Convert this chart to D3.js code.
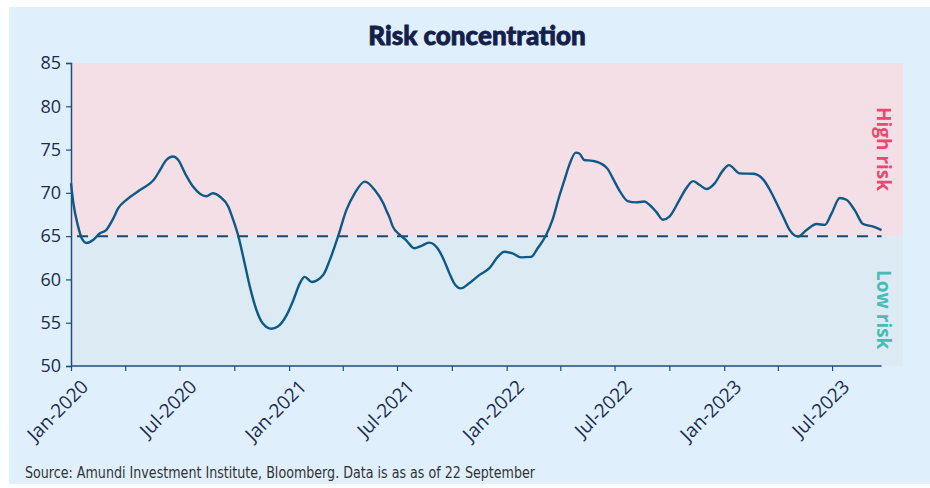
<!DOCTYPE html>
<html>
<head>
<meta charset="utf-8">
<script src="https://cdn.jsdelivr.net/npm/d3@7"></script>
<style>
  body { margin: 0; background: #ffffff; }
  svg { display: block; }
</style>
</head>
<body>
<div id="graph"></div>
<script>
// Dates (lecture du graphique) et valeurs de concentration du risque
var dates = [
  "2020-01-01", "2020-01-05", "2020-01-13", "2020-01-19", "2020-01-27", "2020-02-07",
  "2020-02-18", "2020-02-29", "2020-03-12", "2020-03-20", "2020-04-03", "2020-04-25",
  "2020-05-21", "2020-05-29", "2020-06-09", "2020-06-20", "2020-06-29", "2020-07-10",
  "2020-07-24", "2020-08-15", "2020-08-26", "2020-09-07", "2020-09-21", "2020-09-29",
  "2020-10-08", "2020-10-16", "2020-10-27", "2020-11-07", "2020-11-18", "2020-12-02",
  "2020-12-13", "2020-12-28", "2021-01-08", "2021-01-19", "2021-01-27", "2021-02-08",
  "2021-02-27", "2021-03-10", "2021-03-24", "2021-04-07", "2021-04-21", "2021-05-08",
  "2021-05-25", "2021-06-08", "2021-06-13", "2021-06-19", "2021-06-24", "2021-07-05",
  "2021-07-16", "2021-07-30", "2021-08-10", "2021-08-24", "2021-09-07", "2021-09-18",
  "2021-09-27", "2021-10-05", "2021-10-16", "2021-10-30", "2021-11-16", "2021-12-03",
  "2021-12-17", "2021-12-28", "2022-01-11", "2022-01-25", "2022-02-11", "2022-02-22",
  "2022-03-08", "2022-03-19", "2022-03-30", "2022-04-08", "2022-04-16", "2022-04-27",
  "2022-05-03", "2022-05-11", "2022-05-25", "2022-06-08", "2022-06-19", "2022-06-28",
  "2022-07-09", "2022-07-23", "2022-08-06", "2022-08-20", "2022-08-29", "2022-09-09",
  "2022-09-20", "2022-10-01", "2022-10-18", "2022-10-29", "2022-11-10", "2022-11-21",
  "2022-12-02", "2022-12-16", "2022-12-30", "2023-01-09", "2023-01-27", "2023-02-19",
  "2023-03-08", "2023-03-19", "2023-03-30", "2023-04-10", "2023-04-21", "2023-05-05",
  "2023-05-19", "2023-06-05", "2023-06-19", "2023-06-30", "2023-07-14", "2023-07-25",
  "2023-08-08", "2023-08-22", "2023-09-08", "2023-09-22"
];
var valeurs = [
  71.1, 68.8, 66.1, 64.75, 64.2, 64.55,
  65.3, 65.7, 67.05, 68.2, 69.2, 70.3,
  71.7, 72.6, 73.8, 74.2, 73.8, 72.3,
  70.7, 69.6, 69.95, 69.55, 68.4, 66.9,
  64.95, 62.6, 59.2, 56.5, 54.9, 54.3,
  54.55, 55.9, 57.6, 59.55, 60.3, 59.7,
  60.5, 62.2, 64.95, 68.0, 69.95, 71.3,
  70.3, 68.8, 68.0, 67.05, 66.1, 65.2,
  64.55, 63.6, 63.85, 64.25, 63.6, 62.2,
  60.7, 59.55, 58.97, 59.55, 60.5, 61.3,
  62.6, 63.2, 63.0, 62.55, 62.6, 63.6,
  65.1, 66.9, 69.55, 71.5, 73.2, 74.65,
  74.55, 73.8, 73.7, 73.4, 72.8, 71.7,
  70.3, 69.05, 68.9, 69.0, 68.6, 67.8,
  66.9, 67.25, 69.2, 70.5, 71.35, 70.9,
  70.45, 71.1, 72.6, 73.2, 72.25, 72.2,
  71.5, 70.3, 68.8, 67.25, 65.7, 64.95,
  65.7, 66.4, 66.3, 67.6, 69.4, 69.2,
  68.0, 66.4, 66.1, 65.7
];

// Graduations et seuil
var graduationsY = [50, 55, 60, 65, 70, 75, 80, 85];
var seuil = 65;
var zones = ["High risk", "Low risk"];
var titre = "Risk concentration";
var source = "Source: Amundi Investment Institute, Bloomberg. Data is as as of 22 September";

var parseDate = d3.timeParse("%Y-%m-%d");
var donnees = dates.map(function(d, i) { return { date: parseDate(d), valeur: valeurs[i] }; });
var derniereDate = donnees[donnees.length - 1].date;

// Marges et taille
var largeurTotale = 930,
    hauteurTotale = 488,
    marges = {haut: 63, gauche: 71},
    largeurInterne = 832,
    hauteurInterne = 303;

var echelleX = d3.scaleTime()
    .domain([parseDate("2020-01-01"), parseDate("2023-10-28")])
    .range([0, largeurInterne]);

var echelleY = d3.scaleLinear()
    .domain([50, 85])
    .range([hauteurInterne, 0]);

var svg = d3.select("#graph").append("svg")
    .attr("width", largeurTotale)
    .attr("height", hauteurTotale);

// Fond bleu clair
svg.append("rect")
    .attr("x", 9).attr("y", 7)
    .attr("width", largeurTotale - 9).attr("height", 477)
    .attr("fill", "#dff0fc");

svg.append("text")
    .attr("x", 477)
    .attr("y", 45)
    .attr("text-anchor", "middle")
    .style("font-family", "Lato, 'Open Sans', sans-serif")
    .style("font-weight", 900)
    .style("font-size", "26px")
    .style("fill", "#14204a")
    .style("stroke", "#14204a")
    .style("stroke-width", 0.8)
    .text(titre);

var graphique = svg.append("g")
    .attr("transform", "translate(" + marges.gauche + "," + marges.haut + ")");

// Zones de risque
graphique.append("rect")
    .attr("x", 0).attr("y", echelleY(85))
    .attr("width", largeurInterne)
    .attr("height", echelleY(seuil) - echelleY(85))
    .attr("fill", "#f5dfe7");

graphique.append("rect")
    .attr("x", 0).attr("y", echelleY(seuil))
    .attr("width", largeurInterne)
    .attr("height", echelleY(50) - echelleY(seuil))
    .attr("fill", "#dceaf4");

// Axe Y
var axeY = d3.axisLeft(echelleY)
    .tickValues(graduationsY)
    .tickSize(5)
    .tickPadding(5);

var gY = graphique.append("g").call(axeY);
gY.select(".domain").attr("stroke", "#1f4e79").attr("stroke-width", 1.5);
gY.selectAll(".tick line").attr("stroke", "#1f4e79").attr("stroke-width", 1.2);
gY.selectAll(".tick text")
    .style("font-family", "'Open Sans', sans-serif")
    .style("font-size", "18px")
    .style("fill", "#1c2b4f");

// Axe X : un trait par trimestre, étiquette en janvier et juillet
var axeX = d3.axisBottom(echelleX)
    .ticks(d3.timeMonth.every(3))
    .tickSize(5)
    .tickFormat(function(d) {
        return (d.getMonth() % 6 === 0) ? d3.timeFormat("%b-%Y")(d) : "";
    });

var gX = graphique.append("g")
    .attr("transform", "translate(0," + hauteurInterne + ")")
    .call(axeX);
gX.select(".domain").remove();
gX.selectAll(".tick").filter(function(d) { return d > derniereDate; }).remove();
gX.append("line")
    .attr("x1", 0).attr("x2", echelleX(derniereDate))
    .attr("stroke", "#1f4e79").attr("stroke-width", 1.5);
gX.selectAll(".tick line").attr("stroke", "#1f4e79").attr("stroke-width", 1.2);
gX.selectAll(".tick text")
    .attr("text-anchor", "end")
    .attr("dy", null)
    .attr("y", 0)
    .attr("transform", "translate(18,22) rotate(-45)")
    .style("font-family", "'Open Sans', sans-serif")
    .style("font-size", "19px")
    .style("fill", "#1c2b4f");

// Seuil en pointillés
graphique.append("line")
    .attr("x1", 6).attr("x2", echelleX(derniereDate))
    .attr("y1", echelleY(seuil)).attr("y2", echelleY(seuil))
    .attr("stroke", "#1d4a6b")
    .attr("stroke-width", 2)
    .attr("stroke-dasharray", "11,9");

// Courbe
var ligne = d3.line()
    .x(function(d) { return echelleX(d.date); })
    .y(function(d) { return echelleY(d.valeur); })
    .curve(d3.curveMonotoneX);

graphique.append("path")
    .datum(donnees)
    .attr("fill", "none")
    .attr("stroke", "#0d5a86")
    .attr("stroke-width", 2.4)
    .attr("d", ligne);

// Libellés des zones
graphique.append("text")
    .attr("transform", "translate(" + (largeurInterne - 19) + "," + (echelleY(75.07)) + ") rotate(90)")
    .attr("text-anchor", "middle")
    .attr("dy", "0.35em")
    .style("font-family", "'Open Sans', sans-serif")
    .style("font-weight", 700)
    .style("font-size", "19px")
    .style("fill", "#e84a6f")
    .text(zones[0]);

graphique.append("text")
    .attr("transform", "translate(" + (largeurInterne - 19) + "," + (echelleY(56.5)) + ") rotate(90)")
    .attr("text-anchor", "middle")
    .attr("dy", "0.35em")
    .style("font-family", "'Open Sans', sans-serif")
    .style("font-weight", 700)
    .style("font-size", "19px")
    .style("fill", "#45bdb4")
    .text(zones[1]);

// Source
svg.append("text")
    .attr("x", 25)
    .attr("y", 478)
    .attr("textLength", 510)
    .attr("lengthAdjust", "spacingAndGlyphs")
    .style("font-family", "'Liberation Sans Narrow', 'DejaVu Sans Condensed', 'Roboto', sans-serif")
    .style("font-size", "16px")
    .style("fill", "#333333")
    .text(source);
</script>
</body>
</html>
